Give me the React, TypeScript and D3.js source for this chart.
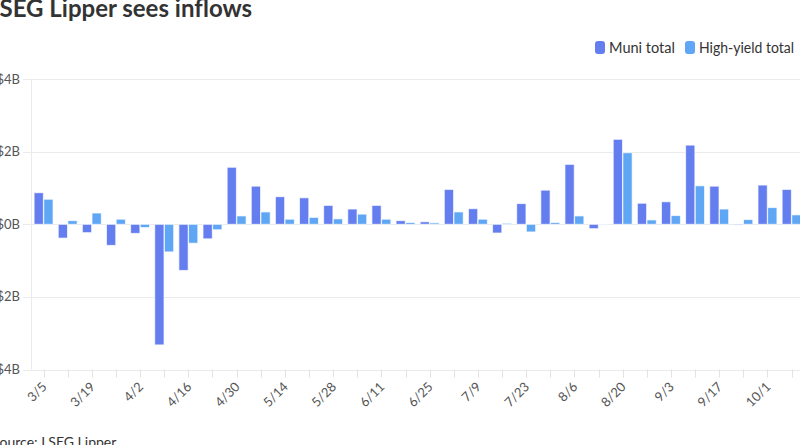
import { useEffect, useRef } from 'react';
import * as d3 from 'd3';

// weekly flows, $B
const weeks = [
  '3/5', '3/12', '3/19', '3/26', '4/2', '4/9', '4/16', '4/23', '4/30', '5/7', '5/14', '5/21',
  '5/28', '6/4', '6/11', '6/18', '6/25', '7/2', '7/9', '7/16', '7/23', '7/30', '8/6', '8/13',
  '8/20', '8/27', '9/3', '9/10', '9/17', '9/24', '10/1', '10/8',
];
const muniTotal = [
  0.87, -0.38, -0.23, -0.58, -0.25, -3.32, -1.27, -0.4, 1.57, 1.05, 0.76, 0.73,
  0.52, 0.42, 0.52, 0.1, 0.07, 0.96, 0.43, -0.24, 0.57, 0.94, 1.65, -0.12,
  2.34, 0.58, 0.62, 2.18, 1.05, -0.02, 1.08, 0.96,
];
const highYieldTotal = [
  0.69, 0.1, 0.31, 0.14, -0.09, -0.76, -0.52, -0.15, 0.23, 0.34, 0.14, 0.19,
  0.15, 0.28, 0.14, 0.05, 0.04, 0.34, 0.14, 0.03, -0.21, 0.05, 0.23, -0.01,
  1.97, 0.12, 0.24, 1.06, 0.42, 0.13, 0.46, 0.26,
];
const labelledWeeks = weeks.filter((_, i) => i % 2 === 0);
const yTicks = [-4, -2, 0, 2, 4];

const SERIES = [
  { key: 'muni', name: 'Muni total', color: '#647ef0', values: muniTotal },
  { key: 'hy', name: 'High-yield total', color: '#5fa6f5', values: highYieldTotal },
];

const W = 800;
const H = 445;
const FONT = 'Lato, "Open Sans", sans-serif';

export default function App() {
  const svgRef = useRef<SVGSVGElement>(null);

  useEffect(() => {
    if (!svgRef.current) return;
    const svg = d3.select(svgRef.current);
    svg.selectAll('*').remove();

    const left = 31.5;
    const step = 24.13;
    const x = d3.scaleBand().domain(weeks).range([left, left + step * weeks.length]);
    const inner = d3
      .scaleBand()
      .domain(SERIES.map((s) => s.key))
      .range([2.6, x.bandwidth() - 2.6])
      .paddingInner(0.04);
    const y = d3.scaleLinear().domain([-4, 4]).range([369.6, 79]);

    // title (left part cropped, as in the source image)
    svg.append('text')
      .attr('x', -13)
      .attr('y', 17)
      .attr('fill', '#333')
      .style('font-family', FONT)
      .style('font-size', '24px')
      .style('font-weight', 700)
      .text('LSEG Lipper sees inflows');

    // legend
    const legend = svg.append('g');
    const legendX = [595, 685];
    const legendW = [66, 95];
    SERIES.forEach((s, i) => {
      legend.append('rect')
        .attr('x', legendX[i])
        .attr('y', 41)
        .attr('width', 10)
        .attr('height', 13)
        .attr('rx', 3)
        .attr('fill', s.color);
      legend.append('text')
        .attr('x', legendX[i] + 14)
        .attr('y', 52.5)
        .attr('fill', '#333')
        .attr('textLength', legendW[i])
        .attr('lengthAdjust', 'spacingAndGlyphs')
        .style('font-family', FONT)
        .style('font-size', '14.5px')
        .text(s.name);
    });

    // grid + y labels
    yTicks.forEach((t) => {
      svg.append('line')
        .attr('x1', 23)
        .attr('x2', W)
        .attr('y1', Math.round(y(t)) + 0.5)
        .attr('y2', Math.round(y(t)) + 0.5)
        .attr('stroke', '#ebebeb')
        .attr('stroke-width', 1);
      svg.append('text')
        .attr('x', 20)
        .attr('y', y(t) + 4.5)
        .attr('text-anchor', 'end')
        .attr('fill', '#555')
        .style('font-family', FONT)
        .style('font-size', '13px')
        .text(`${t < 0 ? '-' : ''}$${Math.abs(t)}B`);
    });
    svg.append('line')
      .attr('x1', left)
      .attr('x2', left)
      .attr('y1', y(4))
      .attr('y2', y(-4))
      .attr('stroke', '#ebebeb');

    // x ticks + labels
    const xb = y(-4);
    weeks.forEach((w) => {
      const cx = (x(w) ?? 0) + x.bandwidth() / 2;
      svg.append('line')
        .attr('x1', Math.round(cx) + 0.5)
        .attr('x2', Math.round(cx) + 0.5)
        .attr('y1', xb)
        .attr('y2', xb + 8)
        .attr('stroke', '#e3e3e3');
    });
    labelledWeeks.forEach((w) => {
      const cx = (x(w) ?? 0) + x.bandwidth() / 2 + 4;
      svg.append('text')
        .attr('transform', `translate(${cx},${xb + 18}) rotate(-45)`)
        .attr('text-anchor', 'end')
        .attr('fill', '#555')
        .style('font-family', FONT)
        .style('font-size', '13px')
        .text(w);
    });

    // bars
    SERIES.forEach((s) => {
      svg.append('g')
        .selectAll('rect')
        .data(s.values)
        .join('rect')
        .attr('x', (_, i) => (x(weeks[i]) ?? 0) + (inner(s.key) ?? 0))
        .attr('width', inner.bandwidth())
        .attr('y', (d) => y(Math.max(0, d)))
        .attr('height', (d) => Math.abs(y(d) - y(0)))
        .attr('fill', s.color)
        .attr('stroke', '#fff')
        .attr('stroke-opacity', 0.7)
        .attr('stroke-width', 1);
    });

    // source
    svg.append('text')
      .attr('x', -8)
      .attr('y', 447)
      .attr('fill', '#333')
      .style('font-family', FONT)
      .style('font-size', '14px')
      .text('Source: LSEG Lipper');
  }, []);

  return (
    <svg
      ref={svgRef}
      width={W}
      height={H}
      viewBox={`0 0 ${W} ${H}`}
      style={{ position: 'absolute', left: 0, top: 0, background: '#fff' }}
    />
  );
}
